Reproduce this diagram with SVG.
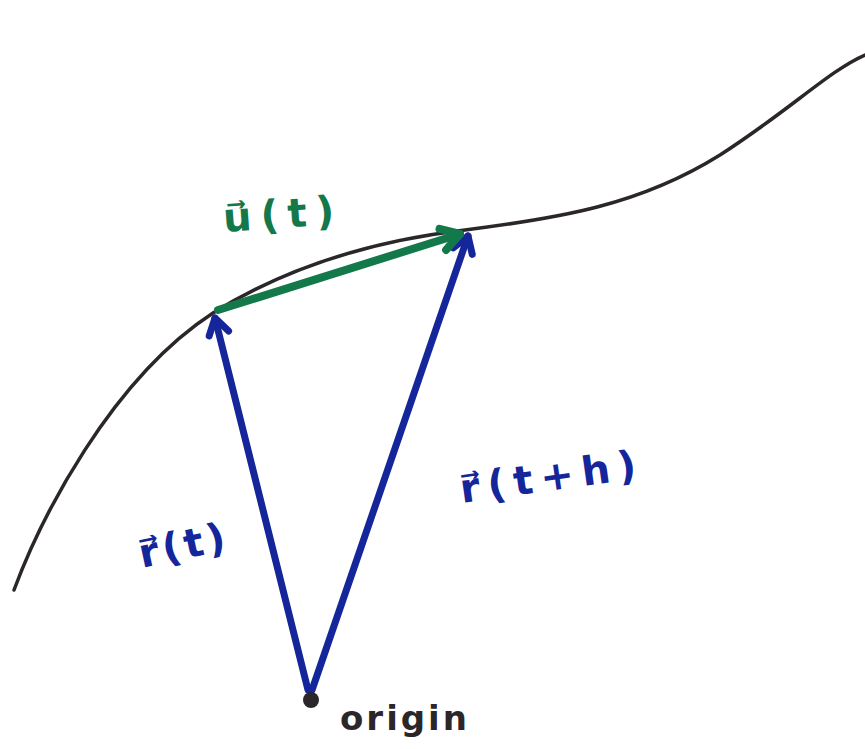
<svg xmlns="http://www.w3.org/2000/svg" width="865" height="749" viewBox="0 0 865 749">
<style>
.curve{fill:none;stroke:#2b2629;stroke-width:3.5;stroke-linecap:round}
.vb{fill:none;stroke:#15259a;stroke-width:7;stroke-linecap:round}
.vg{fill:none;stroke:#13784a;stroke-width:8;stroke-linecap:round}
.lb{font-family:"DejaVu Sans",sans-serif;font-weight:bold;font-size:40px;fill:#15259a}
.lg{font-family:"DejaVu Sans",sans-serif;font-weight:bold;font-size:40px;fill:#13784a}
.lk{font-family:"DejaVu Sans",sans-serif;font-weight:bold;font-size:34px;fill:#2b2629}
</style>
<defs>
<marker id="hb" viewBox="-12 -10 14 20" refX="0" refY="0" markerWidth="14" markerHeight="20" markerUnits="userSpaceOnUse" orient="auto" overflow="visible">
<path d="M-16,-10 L0,0 L-16,10" fill="none" stroke="#15259a" stroke-width="7" stroke-linecap="round" stroke-linejoin="round"/>
</marker>
<marker id="hg" viewBox="-12 -10 14 20" refX="0" refY="0" markerWidth="14" markerHeight="20" markerUnits="userSpaceOnUse" orient="auto" overflow="visible">
<path d="M-18,-11 L0,0 L-18,11" fill="none" stroke="#13784a" stroke-width="8" stroke-linecap="round" stroke-linejoin="round"/>
</marker>
</defs>
<g id="curve">
<path class="curve" d="M14,590 C40,520 110,380 213,313 C290,265 380,240 465,230 C560,218 640,205 720,155 C790,110 830,70 865,55"/>
</g>
<g id="connectors">
<path class="vb" d="M308,690 L215,318" marker-end="url(#hb)"/>
<path class="vb" d="M312,690 L468,236" marker-end="url(#hb)"/>
<path class="vg" d="M218,310 L460,234" marker-end="url(#hg)"/>
</g>
<g id="origin">
<circle cx="311" cy="700" r="8" fill="#2b2629"/>
<text class="lk" x="340" y="730" letter-spacing="3">origin</text>
</g>
<g id="label-u">
<text class="lg" x="224" y="232" letter-spacing="9" transform="rotate(-4 224 232)">u⃗(t)</text>
</g>
<g id="label-rt">
<text class="lb" x="142" y="568" letter-spacing="4" transform="rotate(-12 142 568)">r⃗(t)</text>
</g>
<g id="label-rth">
<text class="lb" x="462" y="503" letter-spacing="8" transform="rotate(-8 462 503)">r⃗(t+h)</text>
</g>
</svg>
